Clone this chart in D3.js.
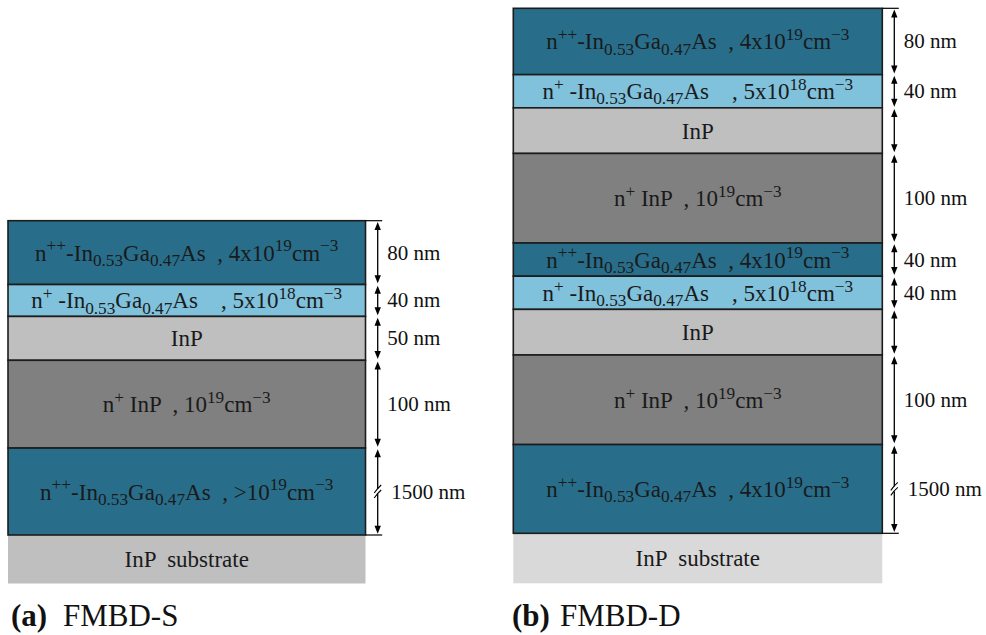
<!DOCTYPE html>
<html>
<head>
<meta charset="utf-8">
<script src="https://cdn.jsdelivr.net/npm/d3@7"></script>
<style>
  html, body { margin: 0; padding: 0; background: #ffffff; }
  svg { display: block; }
  text { white-space: pre; }
</style>
</head>
<body>
<script>
// Epitaxial layer stacks of the two diode structures (top layer first).

// Rich labels: each piece is [text, role] with role "sup", "sub" or plain.
const labNpp4e19 = [["n"], ["++", "sup"], ["-In"], ["0.53", "sub"], ["Ga"], ["0.47", "sub"], ["As  , 4x10"], ["19", "sup"], ["cm"], ["\u22123", "sup"]];
const labNp5e18 = [["n"], ["+", "sup"], [" -In"], ["0.53", "sub"], ["Ga"], ["0.47", "sub"], ["As    , 5x10"], ["18", "sup"], ["cm"], ["\u22123", "sup"]];
const labInP = [["InP"]];
const labNpInP = [["n"], ["+", "sup"], [" InP  , 10"], ["19", "sup"], ["cm"], ["\u22123", "sup"]];
const labNppGt1e19 = [["n"], ["++", "sup"], ["-In"], ["0.53", "sub"], ["Ga"], ["0.47", "sub"], ["As  , >10"], ["19", "sup"], ["cm"], ["\u22123", "sup"]];

// FMBD-S
const materialsS = ["nppGaAs", "npGaAs", "InP", "npInP", "nppGaAs"];
const labelsS = [labNpp4e19, labNp5e18, labInP, labNpInP, labNppGt1e19];
const thicknessS = ["80 nm", "40 nm", "50 nm", "100 nm", "1500 nm"];
const drawnS = [80, 40, 55, 110, 109]; // schematic thickness; the 1500 nm layer is drawn broken

// FMBD-D
const materialsD = ["nppGaAs", "npGaAs", "InP", "npInP", "nppGaAs", "npGaAs", "InP", "npInP", "nppGaAs"];
const labelsD = [labNpp4e19, labNp5e18, labInP, labNpInP, labNpp4e19, labNp5e18, labInP, labNpInP, labNpp4e19];
const thicknessD = ["80 nm", "40 nm", "", "100 nm", "40 nm", "40 nm", "", "100 nm", "1500 nm"];
const drawnD = [80, 40, 55, 108, 40, 40, 55, 108, 107];

const substrateLabel = "InP  substrate";
const captions = [["(a)", "FMBD-S"], ["(b)", "FMBD-D"]];

// Styling
const fills = { nppGaAs: "#286e8a", npGaAs: "#80c1dc", InP: "#bfbfbf", npInP: "#808080" };
const layerFont = "'Liberation Serif', 'Times New Roman', serif";
const dimFont = "'Liberation Serif', 'Times New Roman', serif";

const W = 986, H = 635;
const svg = d3.select("body").append("svg").attr("width", W).attr("height", H);

function richText(g, pieces, x, y, size) {
  const t = g.append("text")
    .attr("x", x).attr("y", y)
    .attr("text-anchor", "middle")
    .attr("font-family", layerFont)
    .attr("font-size", size)
    .attr("fill", "#1a1a1a");
  let shift = 0;
  pieces.forEach(([s, role]) => {
    const target = role === "sup" ? -0.4 * size : role === "sub" ? 0.22 * size : 0;
    t.append("tspan")
      .attr("dy", target - shift)
      .attr("font-size", role ? size * 0.75 : size)
      .text(s);
    shift = target;
  });
  return t;
}

function drawStack(cfg) {
  const g = svg.append("g");
  const total = d3.sum(cfg.drawn);
  const y = d3.scaleLinear().domain([0, total]).range([cfg.top, cfg.bottom]);
  const cum = d3.cumsum(cfg.drawn);
  const layers = cfg.materials.map((m, i) => ({
    m, label: cfg.labels[i], dim: cfg.thickness[i],
    y0: y(i ? cum[i - 1] : 0), y1: y(cum[i]), broken: i === cfg.materials.length - 1
  }));

  // substrate
  g.append("rect")
    .attr("x", cfg.x0).attr("y", cfg.bottom)
    .attr("width", cfg.x1 - cfg.x0).attr("height", cfg.subBottom - cfg.bottom)
    .attr("fill", cfg.subFill);
  g.append("text")
    .attr("x", (cfg.x0 + cfg.x1) / 2).attr("y", (cfg.bottom + cfg.subBottom) / 2 + 8)
    .attr("text-anchor", "middle")
    .attr("font-family", layerFont).attr("font-size", cfg.fs)
    .attr("fill", "#1a1a1a")
    .text(substrateLabel);

  // layers
  g.selectAll("rect.layer").data(layers).join("rect")
    .attr("class", "layer")
    .attr("x", cfg.x0).attr("y", d => d.y0)
    .attr("width", cfg.x1 - cfg.x0).attr("height", d => d.y1 - d.y0)
    .attr("fill", d => fills[d.m])
    .attr("stroke", "#1c1c1c").attr("stroke-width", 1.6);

  layers.forEach(d => richText(g, d.label, (cfg.x0 + cfg.x1) / 2, (d.y0 + d.y1) / 2 + 8, cfg.fs));

  // extension lines at top and bottom of the epitaxial stack
  [cfg.top, cfg.bottom].forEach(yy => {
    g.append("line").attr("x1", cfg.x1).attr("x2", cfg.ax + 4.5)
      .attr("y1", yy).attr("y2", yy)
      .attr("stroke", "#000").attr("stroke-width", 1.2);
  });

  // dimension arrows
  const head = (yy, dir) => {
    const l = 8, w = 3.2;
    return `M${cfg.ax},${yy}L${cfg.ax - w},${yy + dir * l}L${cfg.ax + w},${yy + dir * l}Z`;
  };
  layers.forEach(d => {
    const a = d.y0 + 1.2, b = d.y1 - 1.2;
    g.append("line").attr("x1", cfg.ax).attr("x2", cfg.ax)
      .attr("y1", a + 4).attr("y2", b - 4)
      .attr("stroke", "#000").attr("stroke-width", 1.3);
    g.append("path").attr("d", head(a, 1)).attr("fill", "#000");
    g.append("path").attr("d", head(b, -1)).attr("fill", "#000");
    const mid = (d.y0 + d.y1) / 2;
    if (d.broken) {
      g.append("rect").attr("x", cfg.ax - 2).attr("y", mid - 2.5)
        .attr("width", 4).attr("height", 5).attr("fill", "#fff");
      [-2.5, 2.5].forEach(o => {
        g.append("path")
          .attr("d", `M${cfg.ax + 3.5},${mid + o - 4}Q${cfg.ax},${mid + o - 1} ${cfg.ax - 3.5},${mid + o + 4}`)
          .attr("fill", "none").attr("stroke", "#000").attr("stroke-width", 1.1);
      });
    }
    if (d.dim) {
      g.append("text")
        .attr("x", cfg.ax + (d.broken ? 13.5 : 9.5)).attr("y", mid + 7)
        .attr("font-family", dimFont).attr("font-size", 21)
        .attr("fill", "#111")
        .text(d.dim);
    }
  });

  // caption
  const cap = g.append("text")
    .attr("x", cfg.capX).attr("y", 626)
    .attr("font-family", dimFont).attr("font-size", 31).attr("fill", "#111");
  cap.append("tspan").attr("font-weight", "bold").text(cfg.caption[0]);
  cap.append("tspan").attr("x", cfg.capX2).text(cfg.caption[1]);
}

drawStack({
  materials: materialsS, labels: labelsS, thickness: thicknessS, drawn: drawnS,
  x0: 8, x1: 365.5, top: 220.7, bottom: 535, subBottom: 583.5, subFill: "#bfbfbf",
  ax: 377.7, fs: 23, caption: captions[0], capX: 11, capX2: 63
});
drawStack({
  materials: materialsD, labels: labelsD, thickness: thicknessD, drawn: drawnD,
  x0: 513.3, x1: 882.3, top: 8.3, bottom: 533.3, subBottom: 583.3, subFill: "#d9d9d9",
  ax: 894.3, fs: 23, caption: captions[1], capX: 512, capX2: 560
});
</script>
</body>
</html>
